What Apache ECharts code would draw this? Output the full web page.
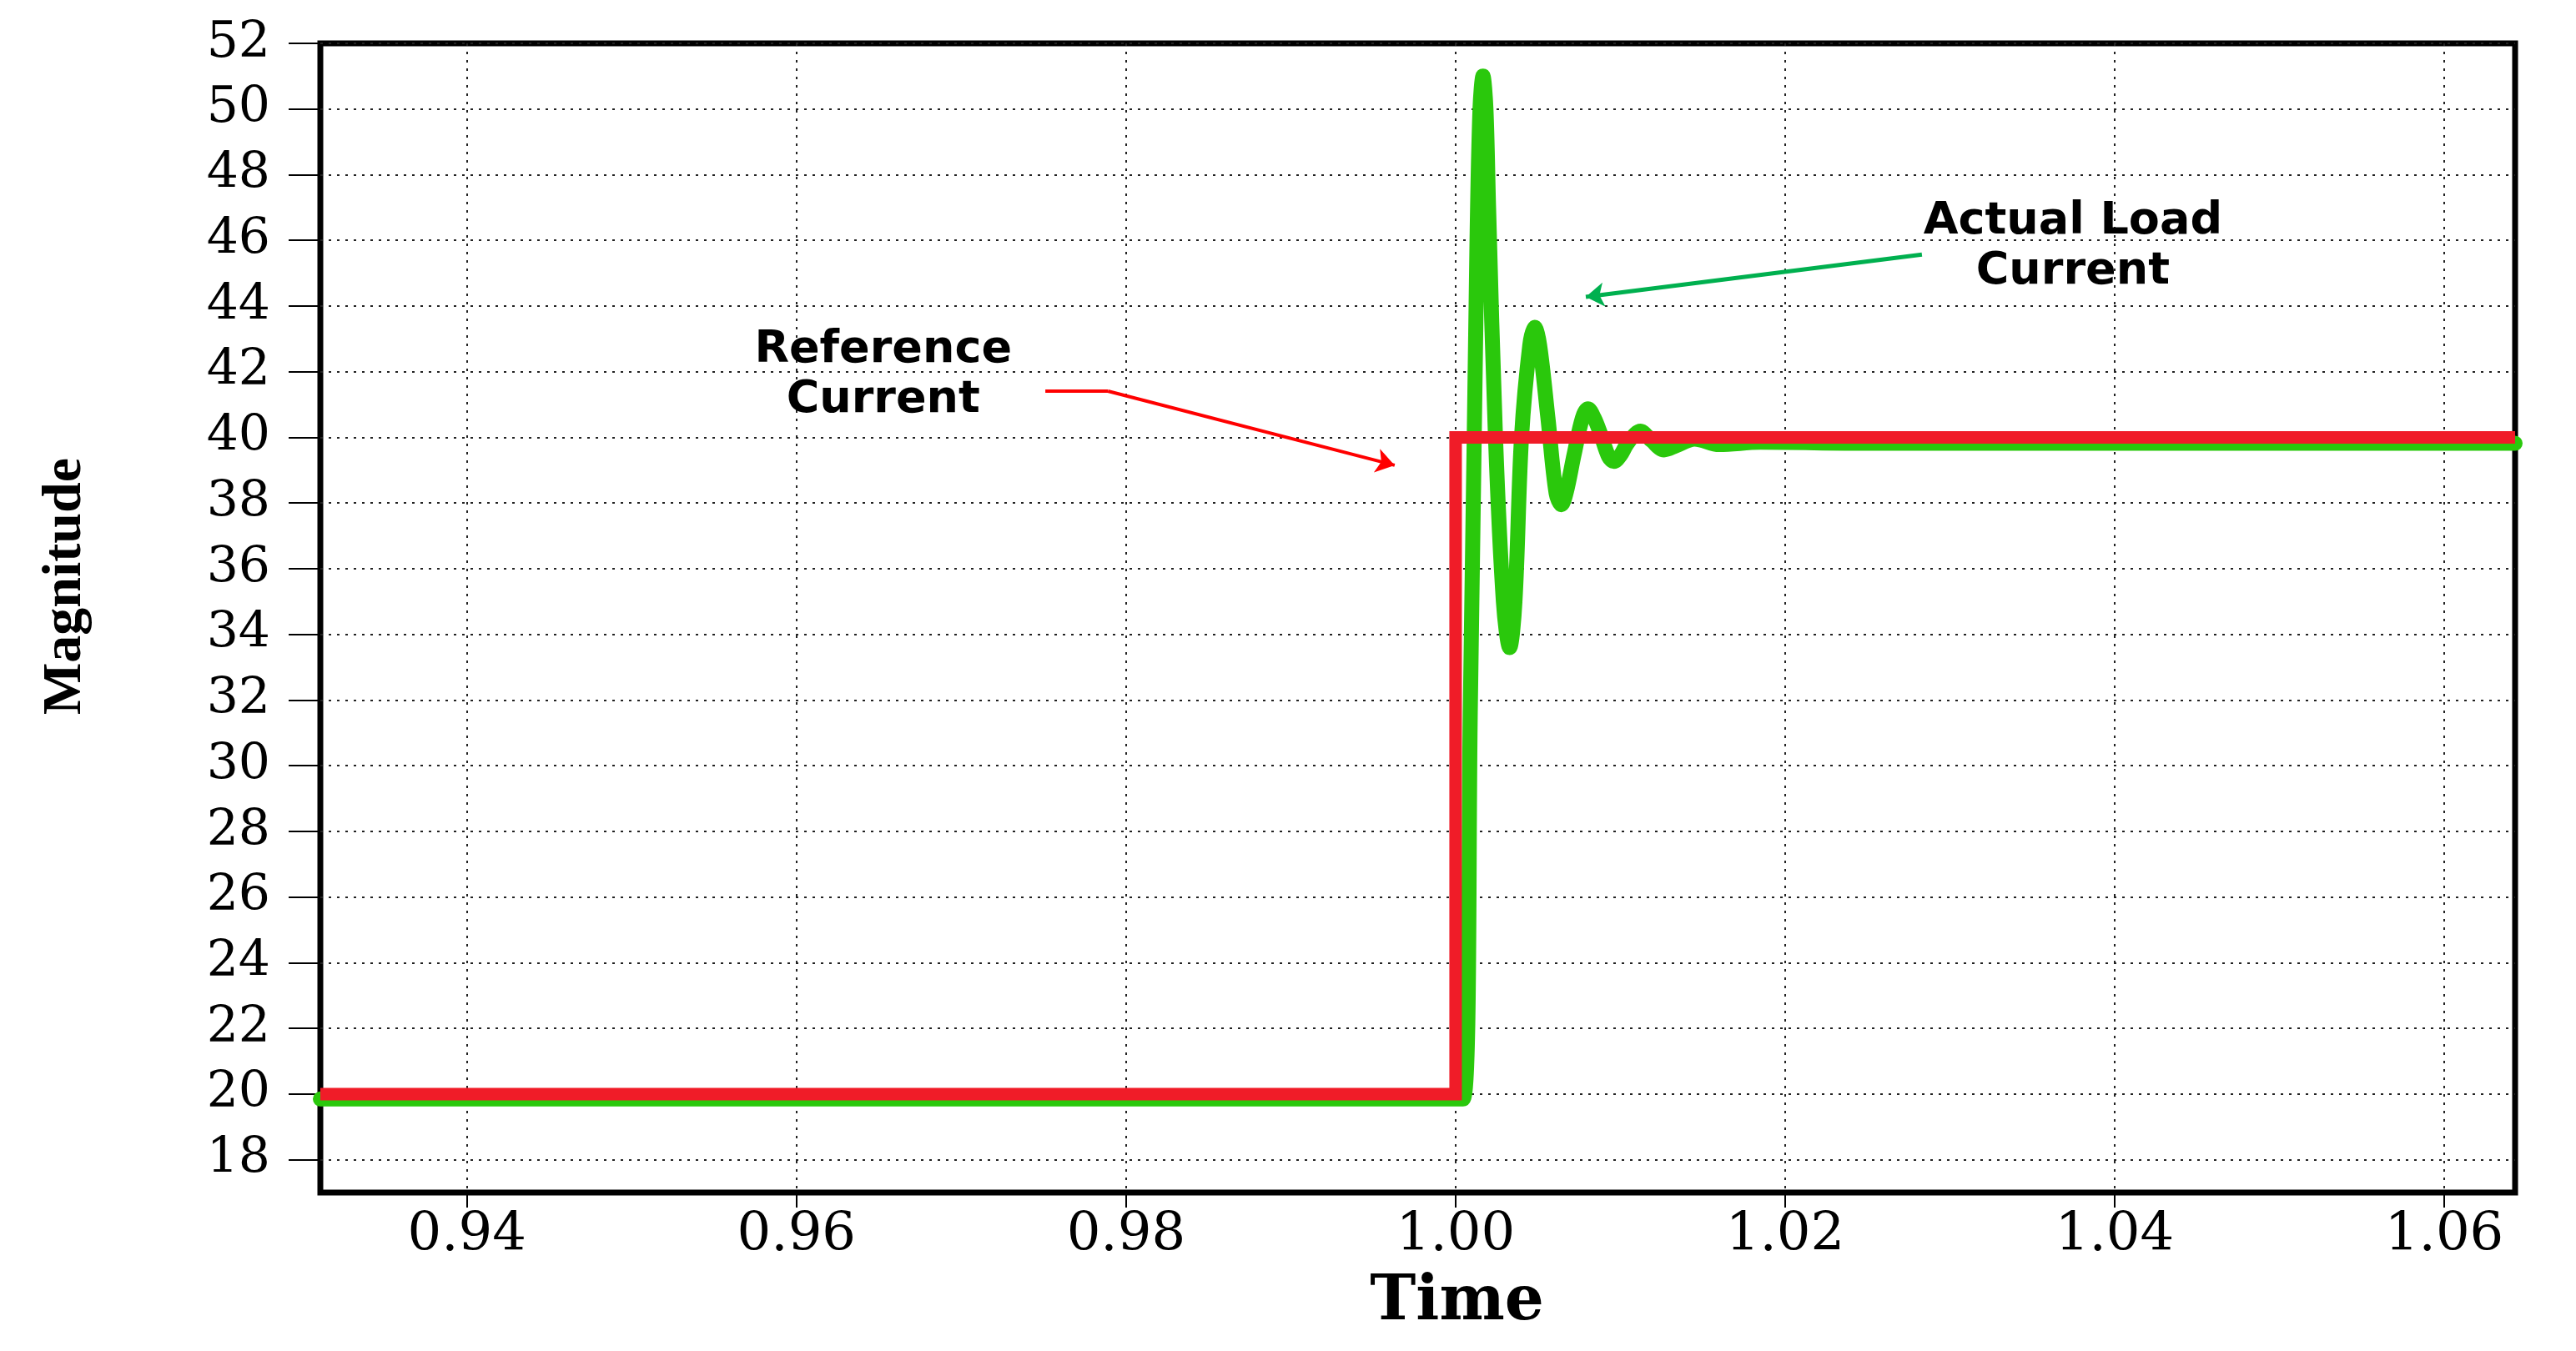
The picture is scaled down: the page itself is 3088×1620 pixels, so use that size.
<!DOCTYPE html>
<html>
<head>
<meta charset="utf-8">
<script src="https://cdn.jsdelivr.net/npm/echarts@6/dist/echarts.min.js"></script>
<style>
html,body{margin:0;padding:0;background:#fff;}
#chart{width:3088px;height:1620px;}
</style>
</head>
<body>
<div id="chart"></div>
<script>
// ---- data ----
const xTicks = [0.94, 0.96, 0.98, 1.00, 1.02, 1.04, 1.06];
const yTicks = [18, 20, 22, 24, 26, 28, 30, 32, 34, 36, 38, 40, 42, 44, 46, 48, 50, 52];

const refTime    = [0.9311, 1.0000, 1.0000, 1.0643];
const refCurrent = [20, 20, 40, 40];

const loadTime = [0.9311, 0.9800, 1.00045, 1.0009, 1.0013, 1.00148, 1.00166, 1.00184, 1.0020, 1.00242,
                  1.0029, 1.00328, 1.0036, 1.0040, 1.0045, 1.0048, 1.0051, 1.0056, 1.0061, 1.00642,
                  1.0067, 1.0072, 1.0077, 1.00804, 1.0084, 1.0088, 1.0093, 1.00961, 1.0100, 1.0104,
                  1.0109, 1.01123, 1.0116, 1.0119, 1.01265, 1.0134, 1.0145, 1.0160, 1.0185, 1.0250, 1.0643];
const loadCurrent = [19.85, 19.85, 19.85, 32.0, 46.0, 50.0, 51.0, 50.0, 47.0, 40.0,
                     35.0, 33.6, 35.0, 40.0, 42.8, 43.35, 42.8, 40.6, 38.3, 37.95,
                     38.3, 39.5, 40.6, 40.87, 40.6, 40.1, 39.4, 39.27, 39.45, 39.8,
                     40.1, 40.19, 40.05, 39.9, 39.62, 39.75, 39.95, 39.78, 39.85, 39.82, 39.82];

// annotation texts and anchors (data coordinates)
const noteTexts  = ['Reference\nCurrent', 'Actual Load\nCurrent'];
const notePos    = [[0.96526, 41.89], [1.03746, 45.80]];
const redArrowA  = [[0.9751, 41.41], [0.9789, 41.41]];
const redArrowB  = [[0.9789, 41.41], [0.9963, 39.15]];
const greenArrow = [[1.0283, 45.57], [1.0079, 44.28]];

const chart = echarts.init(document.getElementById('chart'), null, {renderer: 'canvas'});

const zip = (a, b) => a.map((v, i) => [v, b[i]]);

chart.setOption({
  backgroundColor: '#ffffff',
  animation: false,
  grid: {
    left: 384, right: 73, top: 52, bottom: 190,
    show: true, borderColor: '#000', borderWidth: 7,
    outerBoundsMode: 'none'
  },
  xAxis: {
    type: 'value',
    min: 0.9311, max: 1.0643,
    name: 'Time',
    nameLocation: 'middle',
    nameGap: 96,
    nameTextStyle: {fontFamily: 'DejaVu Serif', fontWeight: 'bold', fontSize: 74, color: '#000', padding: [0, 0, 0, 94]},
    axisLine: {show: false},
    axisTick: {show: true, length: 18, customValues: xTicks, lineStyle: {color: '#000', width: 2}},
    axisLabel: {
      customValues: xTicks,
      margin: 20,
      fontFamily: 'DejaVu Serif', fontSize: 64, color: '#000',
      formatter: v => v.toFixed(2)
    },
    splitLine: {show: true, lineStyle: {color: '#222', width: 2, type: [3, 7]}}
  },
  yAxis: {
    type: 'value',
    min: 17, max: 52,
    name: 'Magnitude',
    nameLocation: 'middle',
    nameGap: 272,
    nameTextStyle: {fontFamily: 'Liberation Serif', fontWeight: 'bold', fontSize: 66, color: '#000', padding: [0, 0, 0, 76]},
    axisLine: {show: false},
    axisTick: {show: true, length: 38, customValues: yTicks, lineStyle: {color: '#000', width: 2}},
    axisLabel: {
      customValues: yTicks,
      margin: 60,
      fontFamily: 'DejaVu Serif', fontSize: 60, color: '#000'
    },
    splitLine: {show: true, lineStyle: {color: '#222', width: 2, type: [3, 7]}}
  },
  series: [
    {
      name: 'Actual Load Current',
      type: 'line',
      data: zip(loadTime, loadCurrent),
      showSymbol: false,
      smooth: 0.35,
      lineStyle: {color: '#2ac80c', width: 18, cap: 'round', join: 'round'},
      z: 3
    },
    {
      name: 'Reference Current',
      type: 'line',
      data: zip(refTime, refCurrent),
      showSymbol: false,
      lineStyle: {color: '#f01c28', width: 15, join: 'miter'},
      z: 4
    },
    {
      type: 'lines',
      coordinateSystem: 'cartesian2d',
      symbol: ['none', 'none'],
      lineStyle: {color: '#ff0000', width: 4, opacity: 1},
      data: [{coords: redArrowA}],
      z: 5
    },
    {
      type: 'lines',
      coordinateSystem: 'cartesian2d',
      symbol: ['none', 'arrow'],
      symbolSize: 22,
      lineStyle: {color: '#ff0000', width: 4, opacity: 1},
      data: [{coords: redArrowB}],
      z: 5
    },
    {
      type: 'lines',
      coordinateSystem: 'cartesian2d',
      symbol: ['none', 'arrow'],
      symbolSize: 22,
      lineStyle: {color: '#00b04f', width: 5, opacity: 1},
      data: [{coords: greenArrow}],
      z: 5
    },
    {
      type: 'scatter',
      symbolSize: 0,
      itemStyle: {opacity: 1},
      data: notePos.map((p, i) => ({value: p, name: noteTexts[i]})),
      label: {
        show: true,
        position: 'inside',
        formatter: p => p.name,
        fontFamily: 'DejaVu Sans', fontWeight: 'bold', fontSize: 54, lineHeight: 60,
        color: '#000', opacity: 1, align: 'center', verticalAlign: 'middle'
      },
      silent: true,
      z: 6
    }
  ]
});
</script>
</body>
</html>
